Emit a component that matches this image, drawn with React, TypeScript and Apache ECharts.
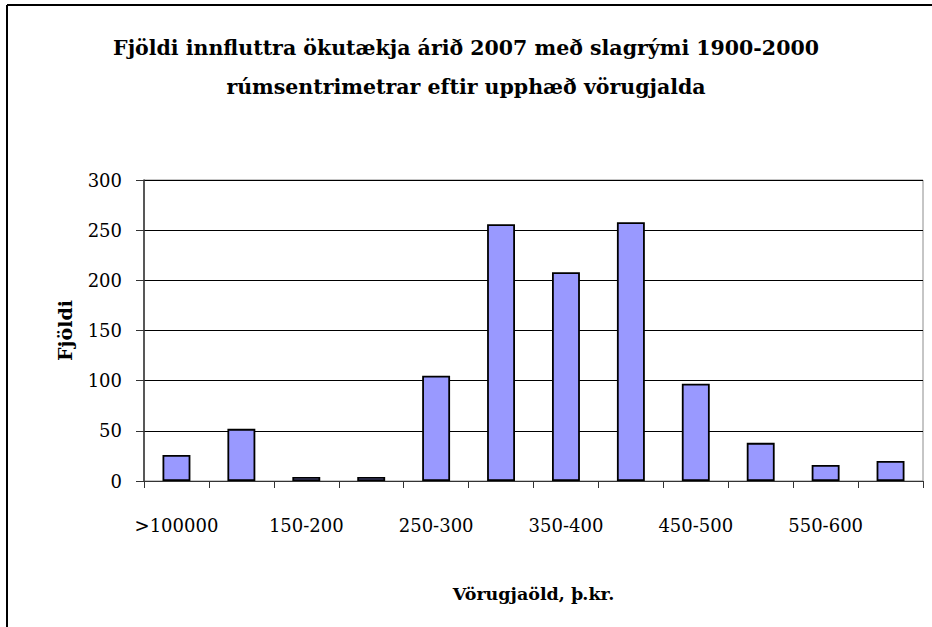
import React, { useEffect, useRef } from "react";
import * as echarts from "echarts";

const categories = [
  ">100000", "100-150", "150-200", "200-250", "250-300", "300-350",
  "350-400", "400-450", "450-500", "500-550", "550-600", ">600",
];
const counts = [26, 52, 4, 4, 105, 256, 208, 258, 97, 38, 16, 20];
const titleText =
  "Fjöldi innfluttra ökutækja árið 2007 með slagrými 1900-2000\nrúmsentrimetrar eftir upphæð vörugjalda";
const yAxisTitle = "Fjöldi";
const xAxisTitle = "Vörugjaöld, þ.kr.";

const FONT = "'DejaVu Serif', serif";

export default function App() {
  const ref = useRef<HTMLDivElement>(null);
  useEffect(() => {
    document.body.style.margin = "0";
    const chart = echarts.init(ref.current!, null, { renderer: "svg" });
    chart.setOption({
      animation: false,
      backgroundColor: "#ffffff",
      title: {
        text: titleText,
        left: "center",
        top: 23,
        textStyle: {
          fontFamily: FONT,
          fontWeight: "bold",
          fontSize: 20.5,
          lineHeight: 39,
          color: "#000",
        },
      },
      graphic: [
        { type: "line", shape: { x1: 7, y1: 5, x2: 932, y2: 5 }, style: { stroke: "#000", lineWidth: 2 } },
        { type: "line", shape: { x1: 7, y1: 5, x2: 7, y2: 627 }, style: { stroke: "#000", lineWidth: 2 } },
      ],
      grid: {
        left: 144,
        right: 9,
        top: 180,
        bottom: 146,
        show: true,
        borderColor: "#8c8c8c",
        borderWidth: 1,
        backgroundColor: "transparent",
      },
      xAxis: {
        type: "category",
        data: categories,
        name: xAxisTitle,
        nameLocation: "middle",
        nameGap: 104,
        nameTextStyle: { fontFamily: FONT, fontWeight: "bold", fontSize: 17.5, color: "#000" },
        axisLine: { show: true, lineStyle: { color: "#333", width: 1 } },
        axisTick: { show: true, interval: 0, alignWithLabel: false, length: 7, lineStyle: { color: "#333" } },
        axisLabel: {
          interval: 1,
          margin: 35,
          fontFamily: FONT,
          fontSize: 18,
          color: "#000",
        },
        splitLine: { show: false },
      },
      yAxis: {
        type: "value",
        min: 0,
        max: 300,
        interval: 50,
        name: yAxisTitle,
        nameLocation: "middle",
        nameGap: 70,
        nameRotate: 90,
        nameTextStyle: { fontFamily: FONT, fontWeight: "bold", fontSize: 19, color: "#000" },
        axisLine: { show: true, lineStyle: { color: "#333", width: 1.5 } },
        axisTick: { show: true, inside: false, length: 8, lineStyle: { color: "#333" } },
        axisLabel: { margin: 22, fontFamily: FONT, fontSize: 18, color: "#000" },
        splitLine: { show: true, lineStyle: { color: "#000", width: 1 } },
      },
      series: [
        {
          type: "bar",
          data: counts,
          barWidth: "43%",
          itemStyle: { color: "#9999ff", borderColor: "#000", borderWidth: 1.8 },
        },
      ],
    });
    return () => chart.dispose();
  }, []);
  return <div ref={ref} style={{ width: 932, height: 627 }} />;
}
